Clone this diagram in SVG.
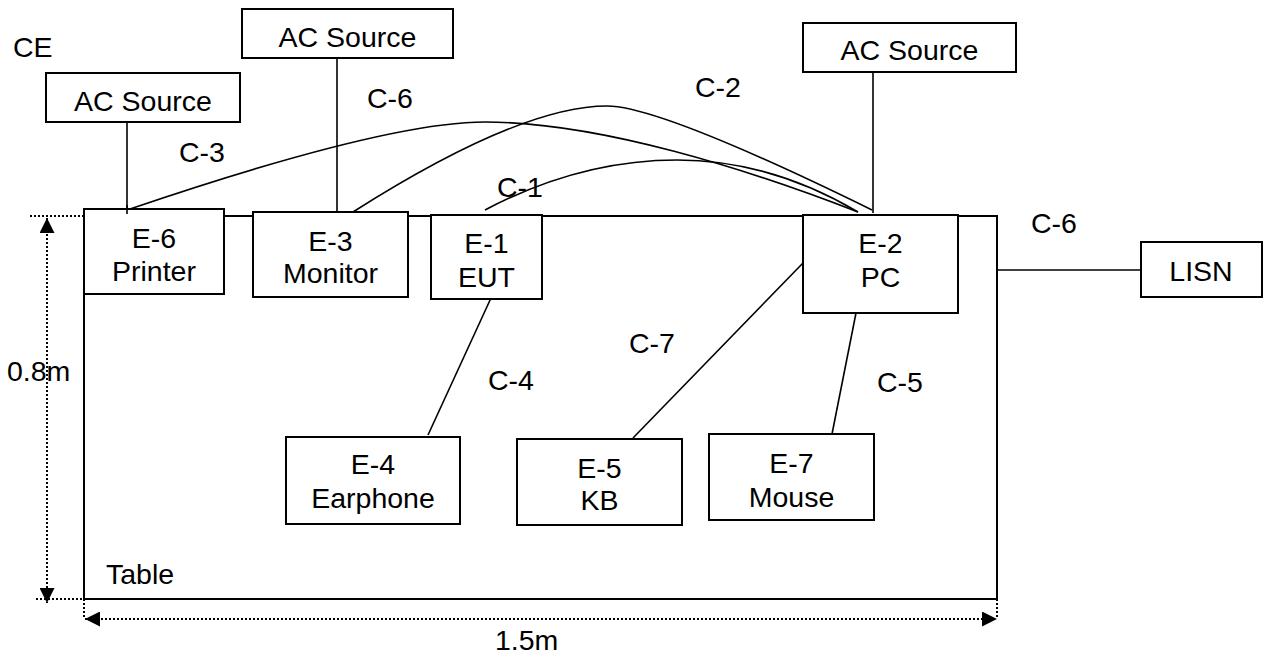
<svg xmlns="http://www.w3.org/2000/svg" width="1266" height="663" viewBox="0 0 1266 663">
<style>
text{font-family:"Liberation Sans",Arial,sans-serif;font-size:28.5px;fill:#000}
.c{text-anchor:middle}
.box{fill:#fff;stroke:#000;stroke-width:2}
.ln{fill:none;stroke:#000;stroke-width:1.6}
.dot{fill:none;stroke:#000;stroke-width:2;stroke-dasharray:2 2}
</style>
<defs>
<marker id="arr" viewBox="0 0 15 15" refX="15" refY="7.5" markerWidth="15" markerHeight="15" markerUnits="userSpaceOnUse" orient="auto-start-reverse">
<path d="M0,0 L15,7.5 L0,15 Z" fill="#000"/>
</marker>
</defs>
<rect id="table" x="84" y="216" width="913" height="383" fill="none" stroke="#000" stroke-width="2"/>
<text x="106" y="584">Table</text>
<text x="13" y="57">CE</text>
<g id="dimensions">
<line class="dot" x1="30" y1="216" x2="84" y2="216"/>
<line class="dot" x1="36" y1="599" x2="105" y2="599"/>
<line class="dot" x1="47" y1="218" x2="47" y2="603" marker-start="url(#arr)" marker-end="url(#arr)"/>
<line class="dot" x1="84" y1="599" x2="84" y2="619"/>
<line class="dot" x1="997" y1="599" x2="997" y2="619"/>
<line class="dot" x1="85" y1="619" x2="997" y2="619" marker-start="url(#arr)" marker-end="url(#arr)"/>
<text x="7" y="381">0.8m</text>
<text x="495" y="650">1.5m</text>
</g>
<g id="connectors">
<line class="ln" x1="127" y1="122" x2="127" y2="214"/>
<line class="ln" x1="337" y1="58" x2="337" y2="212"/>
<line class="ln" x1="873" y1="72" x2="873" y2="213"/>
<path class="ln" d="M130,209 Q386,122 485,122 C600,122 750,170 858,212"/>
<path class="ln" d="M353,212 Q520,106 607,106 C650,106 760,155 872,210"/>
<path class="ln" d="M485,210 Q580,160 677,160 Q770,160 858,212"/>
<line class="ln" x1="491" y1="298" x2="428" y2="435"/>
<line class="ln" x1="803" y1="263" x2="633" y2="438"/>
<line class="ln" x1="856" y1="313" x2="832" y2="434"/>
<line class="ln" x1="997" y1="270" x2="1141" y2="270"/>
<text x="179" y="162">C-3</text>
<text x="367" y="108">C-6</text>
<text x="695" y="97">C-2</text>
<text x="497" y="197">C-1</text>
<text x="1031" y="233">C-6</text>
<text x="488" y="390">C-4</text>
<text x="629" y="353">C-7</text>
<text x="877" y="392">C-5</text>
</g>
<g id="ac1"><rect class="box" x="46" y="73" width="194" height="49"/><text class="c" x="143" y="111">AC Source</text></g>
<g id="ac2"><rect class="box" x="242" y="9" width="211" height="49"/><text class="c" x="347.5" y="47">AC Source</text></g>
<g id="ac3"><rect class="box" x="803" y="23" width="213" height="49"/><text class="c" x="909.5" y="60">AC Source</text></g>
<g id="e6"><rect class="box" x="84" y="209" width="140" height="85"/><text class="c" x="154" y="248">E-6</text><text class="c" x="154" y="281">Printer</text></g>
<g id="e3"><rect class="box" x="253" y="212" width="155" height="85"/><text class="c" x="330.5" y="251">E-3</text><text class="c" x="330.5" y="283">Monitor</text></g>
<g id="e1"><rect class="box" x="431" y="215" width="111" height="84"/><text class="c" x="486.5" y="253">E-1</text><text class="c" x="486.5" y="287">EUT</text></g>
<g id="e2"><rect class="box" x="803" y="215" width="155" height="98"/><text class="c" x="880.5" y="253">E-2</text><text class="c" x="880.5" y="287">PC</text></g>
<g id="e4"><rect class="box" x="286" y="437" width="174" height="87"/><text class="c" x="373" y="474">E-4</text><text class="c" x="373" y="508">Earphone</text></g>
<g id="e5"><rect class="box" x="517" y="439" width="165" height="86"/><text class="c" x="599.5" y="478">E-5</text><text class="c" x="599.5" y="510">KB</text></g>
<g id="e7"><rect class="box" x="709" y="434" width="165" height="86"/><text class="c" x="791.5" y="473">E-7</text><text class="c" x="791.5" y="507">Mouse</text></g>
<g id="lisn"><rect class="box" x="1141" y="242" width="121" height="55"/><text class="c" x="1201" y="281">LISN</text></g>
<line class="ln" x1="127" y1="205" x2="127" y2="214"/>
</svg>
